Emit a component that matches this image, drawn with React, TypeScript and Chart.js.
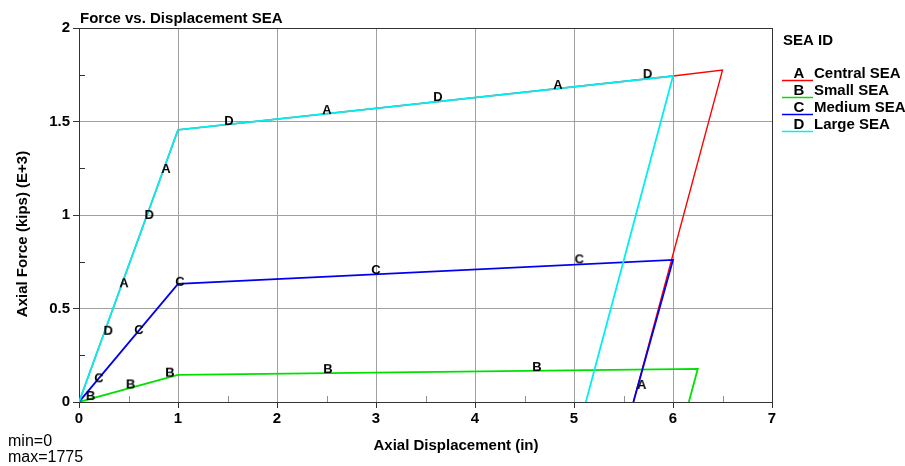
import React, { useEffect, useRef } from 'react';
import { Chart, registerables } from 'chart.js';
Chart.register(...registerables);

// ---- Data (Axial force in kips E+3 vs axial displacement in inches) ----
const seriesIds = ['A', 'B', 'C', 'D'];
const seriesNames = ['Central SEA', 'Small SEA', 'Medium SEA', 'Large SEA'];
const seriesColors = ['#ff0000', '#00e000', '#0000f0', '#00f0f0'];

const centralX = [0, 1, 6, 6.5, 5.6];
const centralY = [0, 1.455, 1.743, 1.775, 0];
const smallX = [0, 1, 6.25, 6.16];
const smallY = [0, 0.145, 0.177, 0];
const mediumX = [0, 1, 6, 5.6];
const mediumY = [0, 0.632, 0.76, 0];
const largeX = [0, 1, 6, 5.12];
const largeY = [0, 1.455, 1.743, 0];

// symbol (letter) marker positions
const markerAX = [0.455, 0.879, 2.505, 4.838, 5.684];
const markerAY = [0.635, 1.246, 1.561, 1.695, 0.091];
const markerBX = [0.118, 0.522, 0.919, 2.515, 4.626];
const markerBY = [0.032, 0.094, 0.157, 0.176, 0.187];
const markerCX = [0.202, 0.606, 1.02, 3.0, 5.054];
const markerCY = [0.127, 0.385, 0.643, 0.706, 0.763];
const markerDX = [0.296, 0.71, 1.515, 3.626, 5.744];
const markerDY = [0.381, 1.0, 1.503, 1.631, 1.754];

const xTickLabels = ['0', '1', '2', '3', '4', '5', '6', '7'];
const yTickLabels = ['0', '0.5', '1', '1.5', '2'];

const chartTitle = 'Force vs. Displacement SEA';
const xAxisTitle = 'Axial Displacement (in)';
const yAxisTitle = 'Axial Force (kips) (E+3)';
const legendTitle = 'SEA ID';
const statLines = ['min=0', 'max=1775'];

const FONT = "'Liberation Sans', Arial, sans-serif";

const toPoints = (xs: number[], ys: number[]) => xs.map((x, i) => ({ x, y: ys[i] }));

function letterCanvas(letter: string): HTMLCanvasElement {
  const c = document.createElement('canvas');
  c.width = 16;
  c.height = 16;
  const g = c.getContext('2d')!;
  g.fillStyle = '#000';
  g.font = `bold 13px ${FONT}`;
  g.textAlign = 'center';
  g.textBaseline = 'middle';
  g.fillText(letter, 8, 8.5);
  return c;
}

const decorPlugin = {
  id: 'decor',
  afterDraw(chart: any) {
    const ctx = chart.ctx as CanvasRenderingContext2D;
    const xs = chart.scales.x;
    const ys = chart.scales.y;
    const area = chart.chartArea;
    ctx.save();
    // minor ticks
    ctx.lineWidth = 1;
    ctx.strokeStyle = '#909090';
    for (let v = 0.5; v < 7; v += 1) {
      const px = Math.round(xs.getPixelForValue(v)) + 0.5;
      ctx.beginPath();
      ctx.moveTo(px, area.bottom);
      ctx.lineTo(px, area.bottom - 6);
      ctx.stroke();
    }
    ctx.strokeStyle = '#333';
    for (let v = 0.25; v < 2; v += 0.5) {
      const py = Math.round(ys.getPixelForValue(v)) + 0.5;
      ctx.beginPath();
      ctx.moveTo(area.left, py);
      ctx.lineTo(area.left + 6, py);
      ctx.stroke();
    }
    ctx.fillStyle = '#000';
    // title
    ctx.font = `bold 15px ${FONT}`;
    ctx.textAlign = 'left';
    ctx.textBaseline = 'alphabetic';
    ctx.fillText(chartTitle, 80, 23);
    // x axis title
    ctx.textAlign = 'center';
    ctx.fillText(xAxisTitle, 456, 450);
    // y axis title
    ctx.save();
    ctx.translate(27, 234);
    ctx.rotate(-Math.PI / 2);
    ctx.fillText(yAxisTitle, 0, 0);
    ctx.restore();
    // legend
    ctx.textAlign = 'left';
    ctx.fillText(legendTitle, 783, 45);
    seriesIds.forEach((id, i) => {
      const base = 78 + i * 17;
      ctx.strokeStyle = seriesColors[i];
      ctx.lineWidth = 1.5;
      ctx.beginPath();
      ctx.moveTo(782, base + 2.5);
      ctx.lineTo(813, base + 2.5);
      ctx.stroke();
      ctx.fillStyle = '#000';
      ctx.textAlign = 'center';
      ctx.fillText(id, 799, base);
      ctx.textAlign = 'left';
      ctx.fillText(seriesNames[i], 814, base);
    });
    // min / max
    ctx.font = `16px ${FONT}`;
    ctx.fillText(statLines[0], 8, 446);
    ctx.fillText(statLines[1], 8, 462);
    ctx.restore();
  },
};

export default function App() {
  const ref = useRef<HTMLCanvasElement | null>(null);
  useEffect(() => {
    if (!ref.current) return;
    const lines = [
      toPoints(centralX, centralY),
      toPoints(smallX, smallY),
      toPoints(mediumX, mediumY),
      toPoints(largeX, largeY),
    ];
    const markers = [
      toPoints(markerAX, markerAY),
      toPoints(markerBX, markerBY),
      toPoints(markerCX, markerCY),
      toPoints(markerDX, markerDY),
    ];
    const datasets: any[] = [];
    lines.forEach((pts, i) => {
      datasets.push({
        label: seriesNames[i],
        data: pts,
        showLine: true,
        borderColor: seriesColors[i],
        backgroundColor: seriesColors[i],
        borderWidth: i === 0 ? 1.4 : 1.8,
        pointRadius: 0,
        fill: false,
        order: 4 - i + 1,
      });
    });
    markers.forEach((pts, i) => {
      datasets.push({
        label: seriesIds[i],
        data: pts,
        showLine: false,
        pointStyle: letterCanvas(seriesIds[i]),
        pointRadius: 6,
        order: 0,
      });
    });
    const chart = new Chart(ref.current, {
      type: 'scatter',
      data: { datasets },
      options: {
        animation: false,
        responsive: false,
        devicePixelRatio: 1,
        layout: { padding: { left: 0, right: 133, top: 28, bottom: 0 } },
        plugins: { legend: { display: false }, title: { display: false }, tooltip: { enabled: false } },
        scales: {
          x: {
            type: 'linear',
            min: 0,
            max: 7,
            afterFit: (s: any) => { s.height = 64; },
            ticks: {
              stepSize: 1,
              color: '#000',
              padding: 2,
              font: { family: FONT, size: 15, weight: 'bold' },
              callback: (v: any) => xTickLabels[Math.round(Number(v))] ?? '',
            },
            grid: {
              color: (c: any) => (c.tick && c.tick.value === 7 ? '#333' : '#a0a0a0'),
              tickColor: '#333',
              tickLength: 6,
              lineWidth: 1,
            },
            border: { display: true, color: '#333', width: 1 },
          },
          y: {
            type: 'linear',
            min: 0,
            max: 2,
            afterFit: (s: any) => { s.width = 79; },
            ticks: {
              stepSize: 0.5,
              color: '#000',
              padding: 3,
              font: { family: FONT, size: 15, weight: 'bold' },
              callback: (v: any) => yTickLabels[Math.round(Number(v) * 2)] ?? '',
            },
            grid: {
              color: (c: any) => (c.tick && c.tick.value === 2 ? '#333' : '#a0a0a0'),
              tickColor: '#333',
              tickLength: 6,
              lineWidth: 1,
            },
            border: { display: true, color: '#333', width: 1 },
          },
        },
      },
      plugins: [
        {
          id: 'whiteBg',
          beforeDraw(c: any) {
            const g = c.ctx;
            g.save();
            g.fillStyle = '#fff';
            g.fillRect(0, 0, c.width, c.height);
            g.restore();
          },
        },
        decorPlugin,
      ],
    } as any);
    return () => chart.destroy();
  }, []);
  return (
    <div style={{ position: 'fixed', left: 0, top: 0, width: 905, height: 466, background: '#fff' }}>
      <canvas ref={ref} width={905} height={466} style={{ display: 'block' }} />
    </div>
  );
}
